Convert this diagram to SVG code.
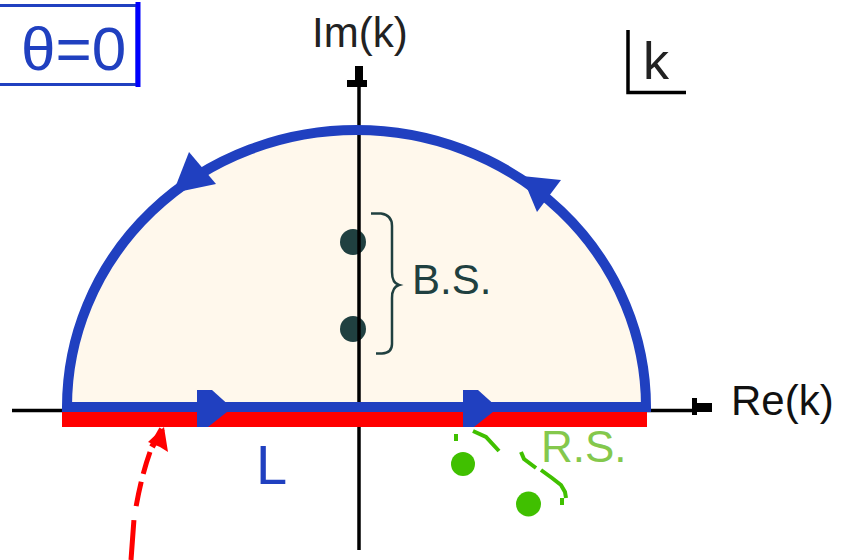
<svg xmlns="http://www.w3.org/2000/svg" width="844" height="560" viewBox="0 0 844 560">
<style>
.t{font-family:"Liberation Sans",Arial,sans-serif}
.ax{stroke:#000;stroke-width:3.5;fill:none}
.blue{fill:#2040c0}
.grn{stroke:#40c000;stroke-width:4;fill:none}
</style>
<rect width="844" height="560" fill="#fff"/>
<g id="region">
<path d="M 67 407 A 289.5 277 0 0 1 646 407 Z" fill="#fff8ec"/>
</g>
<g id="bound-states">
<circle cx="353" cy="242" r="13" fill="#204040"/>
<circle cx="353" cy="329" r="13" fill="#204040"/>
<path d="M 371 213.5 L 381 213.5 Q 392 215 392 226 L 392 272 Q 392 283 399 285 Q 392 287 392 298 L 392 344 Q 392 353 382 353.5 L 376 353.5" stroke="#204040" stroke-width="2.5" fill="none"/>
<text class="t" x="412" y="294" font-size="42" fill="#204040">B.S.</text>
</g>
<g id="axes">
<line class="ax" x1="12" y1="410.5" x2="693" y2="410.5"/>
<polygon points="692,398 697,398 697,403 712,403 712,412 697,412 697,415 692,415" fill="#000"/>
<line class="ax" x1="359" y1="84" x2="359" y2="550" stroke-width="4"/>
<polygon points="355,66 363,66 363,80 367,80 367,87 347,87 347,80 355,80" fill="#000"/>
<text class="t" x="312" y="47" font-size="42" fill="#222">Im(k)</text>
<text class="t" x="731" y="415" font-size="42" fill="#111">Re(k)</text>
</g>
<g id="connectors">
<rect x="62" y="412" width="585" height="15" fill="#ff0000"/>
<path d="M 67 407 A 289.5 277 0 0 1 646 407 Z" fill="none" stroke="#2040c0" stroke-width="10"/>
<polygon class="blue" points="197,390 212,390 232,408 208,427 197,427"/>
<polygon class="blue" points="463,390 478,390 498,408 474,427 463,427"/>
<polygon class="blue" points="173,193 189,152 216,184"/>
<polygon class="blue" points="522,176 561,180 537,212"/>
<path d="M 131 560 L 134 519 Q 140 480 150 452" stroke="#ff0000" stroke-width="5" fill="none" stroke-dasharray="40 14 25 8"/>
<polygon points="148,442 164,427 168,452 160,447" fill="#ff0000"/>
<path d="M 162 429 L 152 447" stroke="#ff0000" stroke-width="6"/>
</g>
<g id="resonances">
<circle cx="463" cy="464" r="12" fill="#40c000"/>
<circle cx="528.5" cy="504" r="12.5" fill="#40c000"/>
<path class="grn" d="M 456 434 L 456 441"/>
<path class="grn" d="M 473 431 L 486 437 L 499 451"/>
<path class="grn" d="M 521 452 L 524 459 L 536 468"/>
<path class="grn" d="M 541 470 L 552 478 L 561 485 L 565 492 L 566 498"/>
<path class="grn" d="M 562 498 L 562 505"/>
<text class="t" x="541" y="462" font-size="44" fill="#84c84c">R.S.</text>
</g>
<g id="label-L">
<text class="t" x="256" y="484" font-size="56" fill="#2040c0">L</text>
</g>
<g id="theta-box">
<rect x="-3" y="5.5" width="140" height="79" fill="none" stroke="#2040c0" stroke-width="3"/>
<line x1="138" y1="2" x2="138" y2="87" stroke="#0000ff" stroke-width="5"/>
<text class="t" x="21" y="70" font-size="62" fill="#2040c0">θ=0</text>
</g>
<g id="k-plane">
<path d="M 628 30 L 628 92.5 L 686 92.5" stroke="#000" stroke-width="3.5" fill="none"/>
<text class="t" x="643" y="79" font-size="52" fill="#222">k</text>
</g>
</svg>
